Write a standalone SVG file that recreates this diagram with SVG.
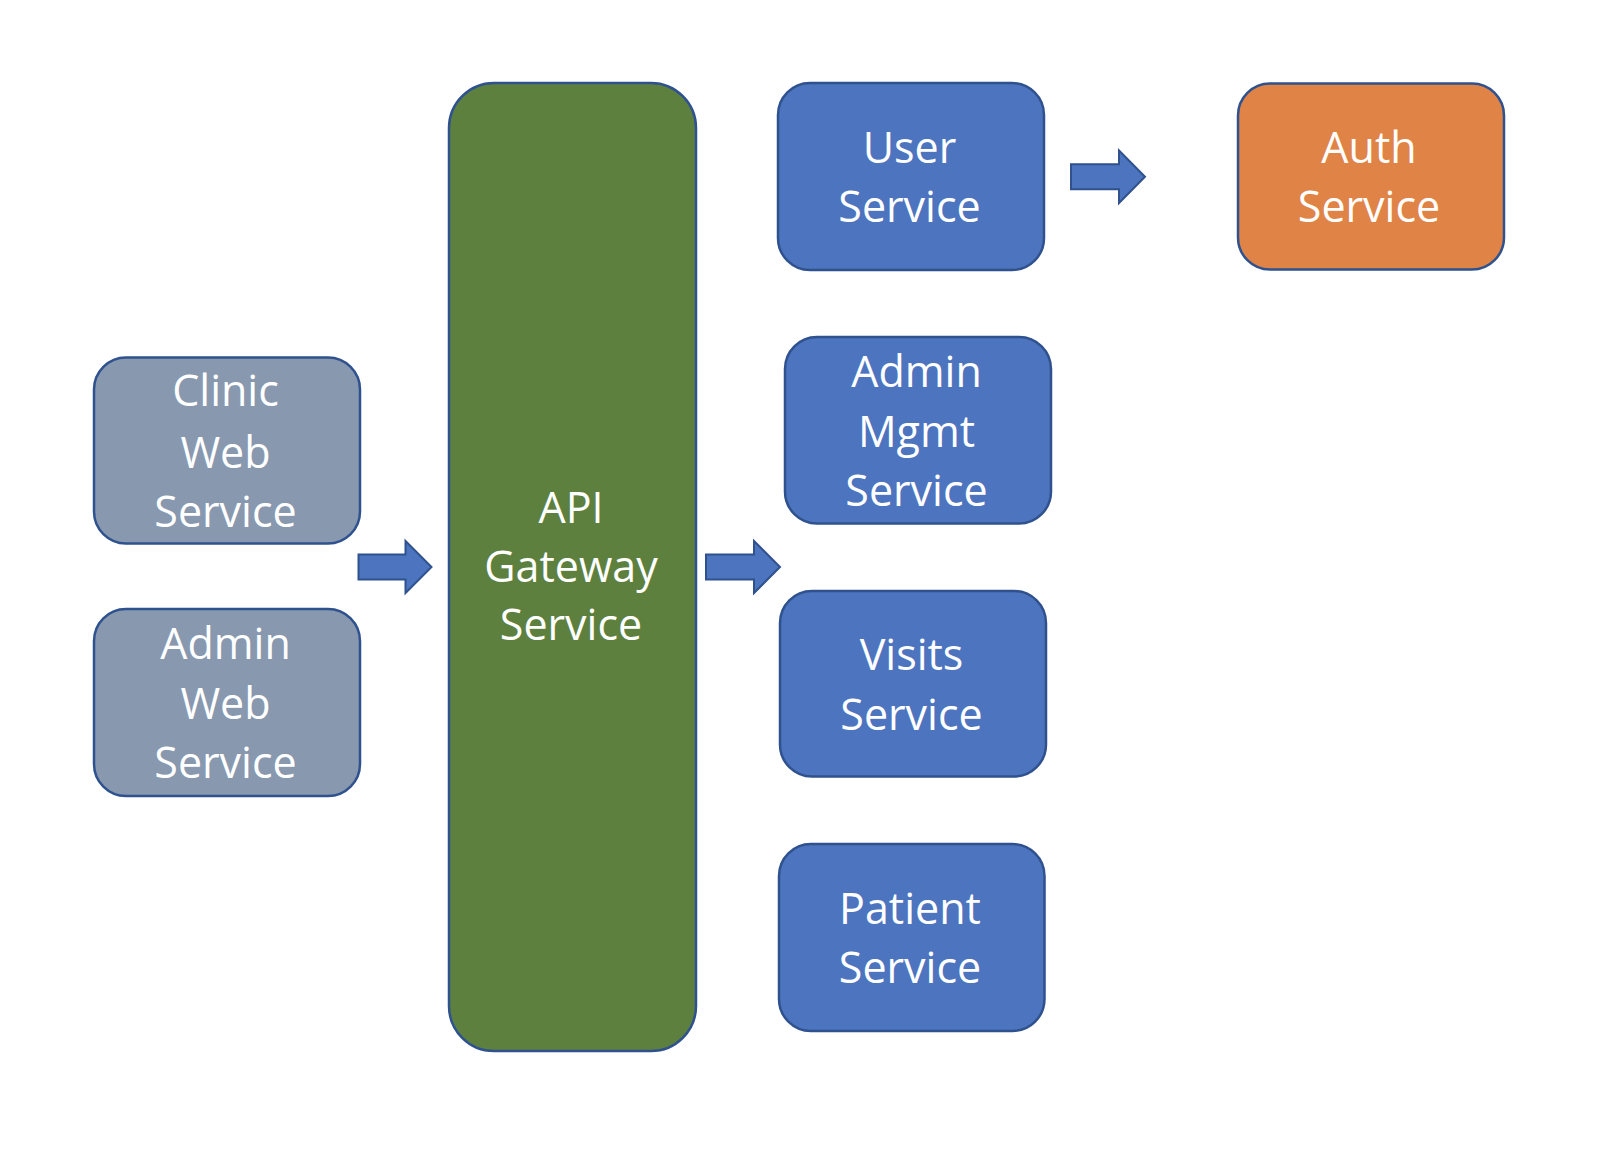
<svg xmlns="http://www.w3.org/2000/svg" width="1612" height="1154" viewBox="0 0 1612 1154">
  <style>
    .box { stroke: #2F528F; stroke-width: 2.5; }
    .gray { fill: #8798AF; }
    .green { fill: #5E803F; }
    .blue { fill: #4D74BE; }
    .orange { fill: #E08346; }
    .lbl { font-family: "Open Sans", "Noto Sans", "Liberation Sans", sans-serif; font-size: 43px; fill: #FFFFFF; text-anchor: middle; }
    .arrow { fill: #4D74BE; stroke: #2F528F; stroke-width: 2; stroke-linejoin: miter; }
  </style>
  <rect width="1612" height="1154" fill="#FFFFFF"/>

  <g id="clinic-web-service">
    <rect class="box gray" x="94" y="357.5" width="266" height="186" rx="32" ry="32"/>
    <text class="lbl"><tspan x="225.5" y="406">Clinic</tspan><tspan x="225.5" y="467.5">Web</tspan><tspan x="225.5" y="526.5">Service</tspan></text>
  </g>

  <g id="admin-web-service">
    <rect class="box gray" x="94" y="609" width="266" height="187" rx="32" ry="32"/>
    <text class="lbl"><tspan x="225.5" y="658.5">Admin</tspan><tspan x="225.5" y="718.5">Web</tspan><tspan x="225.5" y="777.5">Service</tspan></text>
  </g>

  <g id="api-gateway-service">
    <rect class="box green" x="449" y="83" width="247" height="968" rx="45" ry="45"/>
    <text class="lbl"><tspan x="571" y="523">API</tspan><tspan x="571" y="582">Gateway</tspan><tspan x="571" y="640">Service</tspan></text>
  </g>

  <g id="user-service">
    <rect class="box blue" x="778" y="83" width="266" height="187" rx="32" ry="32"/>
    <text class="lbl"><tspan x="909.5" y="162.5">User</tspan><tspan x="909.5" y="221.5">Service</tspan></text>
  </g>

  <g id="admin-mgmt-service">
    <rect class="box blue" x="785" y="337" width="266" height="186.5" rx="32" ry="32"/>
    <text class="lbl"><tspan x="916.5" y="386.5">Admin</tspan><tspan x="916.5" y="446.5">Mgmt</tspan><tspan x="916.5" y="505.5">Service</tspan></text>
  </g>

  <g id="visits-service">
    <rect class="box blue" x="780" y="591" width="266" height="185.5" rx="32" ry="32"/>
    <text class="lbl"><tspan x="911.5" y="670">Visits</tspan><tspan x="911.5" y="729.5">Service</tspan></text>
  </g>

  <g id="patient-service">
    <rect class="box blue" x="779" y="844" width="265.5" height="187" rx="32" ry="32"/>
    <text class="lbl"><tspan x="910" y="923.5">Patient</tspan><tspan x="910" y="983">Service</tspan></text>
  </g>

  <g id="auth-service">
    <rect class="box orange" x="1238" y="83.5" width="266" height="186" rx="32" ry="32"/>
    <text class="lbl"><tspan x="1369" y="163">Auth</tspan><tspan x="1369" y="221.5">Service</tspan></text>
  </g>

  <g id="connectors">
    <polygon class="arrow" points="358.5,554.5 405.5,554.5 405.5,541 431.5,567 405.5,593 405.5,579.5 358.5,579.5"/>
    <polygon class="arrow" points="706,554.5 754,554.5 754,541 780,567 754,593 754,579.5 706,579.5"/>
    <polygon class="arrow" points="1071,164.2 1119,164.2 1119,150.5 1145,176.7 1119,203 1119,189.2 1071,189.2"/>
  </g>
</svg>
